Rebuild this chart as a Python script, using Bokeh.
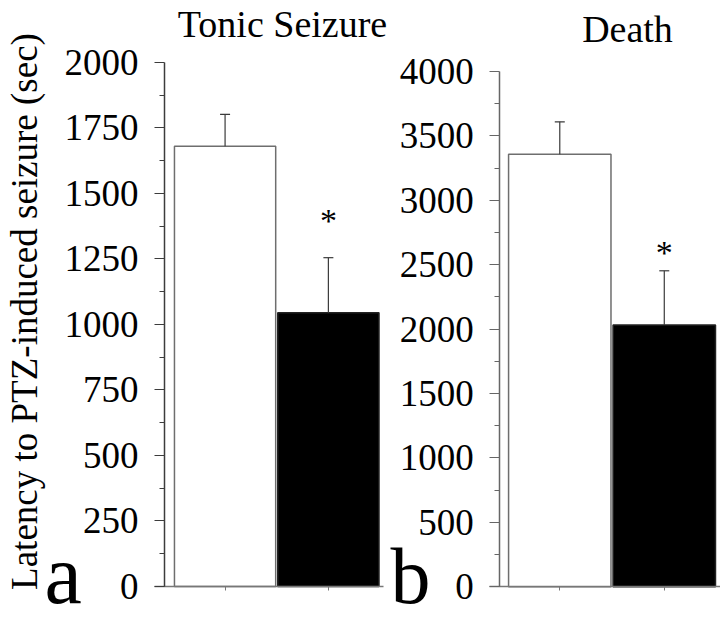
import math
from bokeh.plotting import figure
from bokeh.layouts import row
from bokeh.models import FixedTicker, Label, Whisker, TeeHead, ColumnDataSource, Range1d
from bokeh.embed import file_html
from bokeh.resources import INLINE

# ---- data ----
x_pos = [1, 2]
bar_fill = ["white", "black"]
bar_line = ["#6e6e6e", "#222222"]

tonic_mean = [1680, 1045]
tonic_sem = [122, 210]
death_mean = [3358, 2032]
death_sem = [251, 421]

tonic_ticks = [0, 250, 500, 750, 1000, 1250, 1500, 1750, 2000]
tonic_minor = [125, 375, 625, 875, 1125, 1375, 1625, 1875]
death_ticks = [0, 500, 1000, 1500, 2000, 2500, 3000, 3500, 4000]
death_minor = [250, 750, 1250, 1750, 2250, 2750, 3250, 3750]

titles = ["Tonic Seizure", "Death"]
letters = ["a", "b"]
y_label = "Latency to PTZ-induced seizure (sec)"
star_text = "*"

SERIF = "Liberation Serif"
H = 621
BASE_SHIFT = 0.31  # rendered alphabetic baseline sits this fraction of the size lower


def panel(width, xr, yr, yaxis_at, xbounds, ymax, ticks, minor, means, sems,
          ycolor, star_off):
    p = figure(width=width, height=H, output_backend="svg", toolbar_location=None,
               x_range=Range1d(*xr), y_range=Range1d(*yr),
               min_border_left=0, min_border_right=0, min_border_top=0,
               min_border_bottom=0)
    p.title.text = ""
    p.outline_line_color = None
    p.background_fill_color = "white"
    p.border_fill_color = "white"
    p.xgrid.visible = False
    p.ygrid.visible = False

    ya = p.yaxis[0]
    ya.fixed_location = yaxis_at
    ya.bounds = (0, ymax)
    ya.ticker = FixedTicker(ticks=ticks, minor_ticks=minor)
    ya.axis_line_color = ycolor
    ya.axis_line_width = 1.5
    ya.major_tick_line_color = ycolor
    ya.minor_tick_line_color = ycolor
    ya.major_tick_line_width = 1.2
    ya.minor_tick_line_width = 1.2
    ya.major_tick_out = 10
    ya.major_tick_in = 0
    ya.minor_tick_out = 5
    ya.minor_tick_in = 0
    ya.major_label_text_font = SERIF
    ya.major_label_text_font_size = "37px"
    ya.major_label_text_color = "black"
    ya.major_label_standoff = 16

    xa = p.xaxis[0]
    xa.fixed_location = 0
    xa.bounds = xbounds
    xa.ticker = FixedTicker(ticks=x_pos, minor_ticks=[])
    xa.axis_line_color = "#777777"
    xa.axis_line_width = 1.5
    xa.major_tick_line_color = "#777777"
    xa.major_tick_out = 4
    xa.major_tick_in = 0
    xa.minor_tick_line_color = None
    xa.major_label_overrides = {1: "", 2: ""}

    p.vbar(x=x_pos, top=means, width=0.98, bottom=0,
           fill_color=bar_fill, line_color=bar_line, line_width=1.5)

    src = ColumnDataSource(dict(x=x_pos, lower=means,
                                upper=[m + s for m, s in zip(means, sems)]))
    p.add_layout(Whisker(base="x", lower="lower", upper="upper", source=src,
                         line_color="#3a3a3a", line_width=1.2, level="overlay",
                         upper_head=TeeHead(size=10, line_color="#3a3a3a", line_width=1.2),
                         lower_head=None))

    p.add_layout(Label(x=x_pos[1], y=means[1] + sems[1], y_offset=star_off,
                       text=star_text, text_align="center", text_baseline="alphabetic",
                       text_font=SERIF, text_font_size="34px", text_color="black"))
    return p


def screen_label(p, fig_left, px, py, text, size, align="center", angle=0.0):
    shift = BASE_SHIFT * size
    if angle:
        sx, sy = px - fig_left - shift, H - py
    else:
        sx, sy = px - fig_left, H - py + shift
    p.add_layout(Label(x=sx, y=sy, x_units="screen", y_units="screen",
                       text=text, text_align=align, text_baseline="alphabetic",
                       angle=angle, text_font=SERIF, text_font_size=f"{size}px",
                       text_color="black"))


# panel a: canvas x 0..388
pa = panel(388, (-1.174, 2.582), (-133.6, 2236.6), 0.413, (0.317, 2.53), 2000,
           tonic_ticks, tonic_minor, tonic_mean, tonic_sem, "#3c3c3c", 37)
screen_label(pa, 0, 282, 35, titles[0], 38)
screen_label(pa, 0, 44, 600, letters[0], 84, align="left")
screen_label(pa, 0, 35, 311, y_label, 37, angle=math.pi / 2)

# panel b: canvas x 388..720
pb = panel(332, (-0.639, 2.538), (-269.4, 4551.1), 0.426, (0.327, 2.538), 4000,
           death_ticks, death_minor, death_mean, death_sem, "#666666", 18)
screen_label(pb, 388, 627, 40, titles[1], 38)
screen_label(pb, 388, 390, 600, letters[1], 80, align="left")

layout = row(pa, pb)
open("out.html", "w").write(file_html(layout, INLINE))
